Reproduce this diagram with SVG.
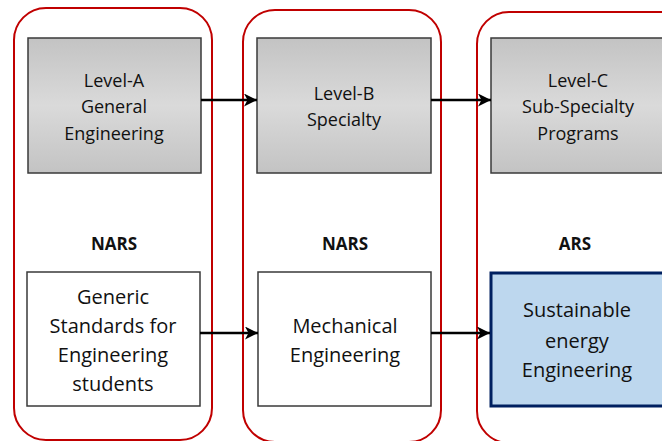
<svg xmlns="http://www.w3.org/2000/svg" width="662" height="441" viewBox="0 0 662 441">
<defs>
<linearGradient id="gray" x1="0" y1="0" x2="0" y2="1">
<stop offset="0" stop-color="#c3c3c3"/>
<stop offset="0.5" stop-color="#dadada"/>
<stop offset="1" stop-color="#c3c3c3"/>
</linearGradient>
<marker id="ah" viewBox="0 0 13 13" refX="13" refY="6.5" markerWidth="13" markerHeight="13" markerUnits="userSpaceOnUse" orient="auto">
<path d="M0,0 L13,6.5 L0,13 L3.5,6.5 Z" fill="#000"/>
</marker>
</defs>
<style>
.cont{fill:none;stroke:#c00000;stroke-width:2}
.gbox{fill:url(#gray);stroke:#3a3a3a;stroke-width:1.5}
.wbox{fill:#fff;stroke:#3a3a3a;stroke-width:1.5}
.bbox{fill:#bdd7ee;stroke:#002060;stroke-width:3}
.t{font-family:"Open Sans",sans-serif;fill:#111;text-anchor:middle}
.s{font-size:18px}
.l{font-size:20px}
.h{font-family:"Open Sans",sans-serif;font-size:17px;font-weight:bold;fill:#111;text-anchor:middle}
.c{stroke:#000;stroke-width:2.5;fill:none;marker-end:url(#ah)}
</style>
<g id="container-1"><rect class="cont" x="14" y="8" width="198" height="432" rx="32"/></g>
<g id="container-2"><rect class="cont" x="243" y="10" width="198" height="432" rx="32"/></g>
<g id="container-3"><rect class="cont" x="477" y="12" width="220" height="431" rx="32"/></g>
<g id="level-a"><rect class="gbox" x="28" y="38" width="173" height="135"/>
<text class="t s" x="114" y="87">Level-A</text><text class="t s" x="114" y="113">General</text><text class="t s" x="114" y="139.5">Engineering</text></g>
<g id="level-b"><rect class="gbox" x="257" y="38" width="174" height="135"/>
<text class="t s" x="344" y="100">Level-B</text><text class="t s" x="344" y="126">Specialty</text></g>
<g id="level-c"><rect class="gbox" x="491" y="38" width="174" height="135"/>
<text class="t s" x="578" y="87">Level-C</text><text class="t s" x="578" y="113">Sub-Specialty</text><text class="t s" x="578" y="139.5">Programs</text></g>
<g id="label-nars-1"><text class="h" x="114" y="250">NARS</text></g>
<g id="label-nars-2"><text class="h" x="345" y="250">NARS</text></g>
<g id="label-ars"><text class="h" x="575" y="250">ARS</text></g>
<g id="generic"><rect class="wbox" x="27" y="272" width="173" height="134"/>
<text class="t l" x="113" y="304">Generic</text><text class="t l" x="113" y="333">Standards for</text><text class="t l" x="113" y="362">Engineering</text><text class="t l" x="113" y="391">students</text></g>
<g id="mechanical"><rect class="wbox" x="258" y="272" width="173" height="134"/>
<text class="t l" x="345" y="333">Mechanical</text><text class="t l" x="345" y="362">Engineering</text></g>
<g id="sustainable"><rect class="bbox" x="491" y="273" width="180" height="133"/>
<text class="t l" x="577" y="317">Sustainable</text><text class="t l" x="577" y="347.5">energy</text><text class="t l" x="577" y="377">Engineering</text></g>
<g id="connectors">
<line class="c" x1="201" y1="100" x2="257" y2="100"/>
<line class="c" x1="431" y1="100" x2="491" y2="100"/>
<line class="c" x1="200" y1="333" x2="258" y2="333"/>
<line class="c" x1="431" y1="333" x2="490" y2="333"/>
</g>
</svg>
